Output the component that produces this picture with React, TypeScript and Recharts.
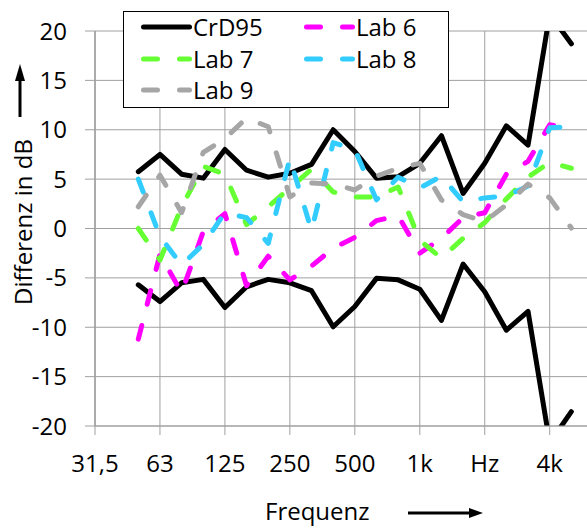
import React from 'react';
import { LineChart, Line, XAxis, YAxis, CartesianGrid, Legend, Label } from 'recharts';

// third-octave band centre frequencies (category axis)
const categories = ['31,5', '40', '50', '63', '80', '100', '125', '160', '200', '250', '315', '400', '500', '630', '800', '1k', '1,25k', '1,6k', '2k', '2,5k', '3,15k', '4k', '5k', '6,3k'];
const tickCategories = ['31,5', '63', '125', '250', '500', '1k', '2k', '4k'];
const tickLabels = ['31,5', '63', '125', '250', '500', '1k', 'Hz', '4k'];
const yTicks = [-20, -15, -10, -5, 0, 5, 10, 15, 20];

// series values from 50 Hz up to 5 kHz
const firstCategory = '50';
const crdUpper = [5.75, 7.5, 5.5, 5.1, 8.0, 5.9, 5.2, 5.6, 6.5, 10.0, 7.8, 5.1, 5.25, 6.6, 9.4, 3.55, 6.6, 10.4, 8.45, 21.7, 18.7];
const crdLower = [-5.7, -7.4, -5.5, -5.15, -8.0, -5.9, -5.15, -5.5, -6.3, -9.95, -7.9, -5.05, -5.2, -6.15, -9.3, -3.6, -6.4, -10.3, -8.4, -21.7, -18.55];
const lab6 = [-11.2, -2.6, -6.5, -0.3, 1.5, -5.8, -2.8, -5.2, -3.8, -2.0, -0.9, 0.8, 1.3, -2.5, -1.0, 1.1, 1.6, 5.5, 6.8, 10.5, 10.2];
const lab7 = [0.0, -3.2, 2.2, 6.3, 5.5, 0.4, 2.2, 4.1, 6.0, 3.7, 3.2, 3.2, 4.2, -1.2, -3.0, -1.0, 0.6, 3.0, 5.2, 6.7, 6.1];
const lab8 = [5.0, -0.8, -3.7, -1.6, 1.6, 1.1, -1.5, 7.1, -0.2, 8.7, 8.0, 2.9, 5.2, 4.1, 5.3, 2.7, 3.1, 3.3, 4.3, 10.2, 10.3];
const lab9 = [2.2, 5.4, 1.6, 7.7, 9.1, 11.2, 10.3, 3.2, 4.6, 4.5, 3.9, 5.3, 6.1, 6.6, 2.9, 1.4, 0.7, 2.4, 4.5, 3.1, 0.05];

const FONT = "'Open Sans', sans-serif";
const GRID = '#a0a0a0';
const DASH = '14 22';

const series = [
  { key: 'crdUpper', name: 'CrD95', color: '#000000', values: crdUpper, dash: undefined as string | undefined, inLegend: true },
  { key: 'crdLower', name: 'CrD95', color: '#000000', values: crdLower, dash: undefined as string | undefined, inLegend: false },
  { key: 'lab6', name: 'Lab 6', color: '#ff00ff', values: lab6, dash: DASH, inLegend: true },
  { key: 'lab7', name: 'Lab 7', color: '#66ff33', values: lab7, dash: DASH, inLegend: true },
  { key: 'lab8', name: 'Lab 8', color: '#33ccff', values: lab8, dash: DASH, inLegend: true },
  { key: 'lab9', name: 'Lab 9', color: '#a6a6a6', values: lab9, dash: DASH, inLegend: true },
];

const start = categories.indexOf(firstCategory);
const data = categories.map((f, i) => {
  const row: Record<string, string | number | null> = { f };
  series.forEach((s) => {
    const k = i - start;
    row[s.key] = k >= 0 && k < s.values.length ? s.values[k] : null;
  });
  return row;
});

const tickText = (v: string) => {
  const i = tickCategories.indexOf(v);
  return i >= 0 ? tickLabels[i] : '';
};

const legendItems = series.filter((s) => s.inLegend);

const LegendBox = () => (
  <div style={{ position: 'relative', width: 326, height: 97, boxSizing: 'border-box', border: '1.5px solid #000', background: '#fff' }}>
    {legendItems.map((s, j) => {
      const col = j % 2;
      const row = Math.floor(j / 2);
      const left = col === 0 ? 15 : 178;
      const cy = 15 + row * 31.5;
      return (
        <div key={s.key} style={{ position: 'absolute', left, top: cy - 16, height: 32, display: 'flex', alignItems: 'center', whiteSpace: 'nowrap' }}>
          <svg width={53} height={10} style={{ display: 'block', flex: 'none' }}>
            <line x1={4.5} x2={50.5} y1={5} y2={5} stroke={s.color} strokeWidth={5}
              strokeLinecap="round" strokeDasharray={s.dash} />
          </svg>
          <span style={{ fontSize: 24, lineHeight: '32px', fontFamily: FONT, color: '#000', marginLeft: 1 }}>{s.name}</span>
        </div>
      );
    })}
  </div>
);

const YTitle = (props: any) => {
  const vb = props.viewBox || { x: 0, y: 31 };
  const cx = vb.x + 32;
  const cy = vb.y + 191;
  const ax = vb.x + 20;
  return (
    <g>
      <text x={cx} y={cy} transform={`rotate(-90 ${cx} ${cy})`} textAnchor="middle" fontSize={24}
        fontFamily={FONT} fill="#000">Differenz in dB</text>
      <line x1={ax} x2={ax} y1={vb.y + 86} y2={vb.y + 48} stroke="#000" strokeWidth={3} />
      <polygon points={`${ax},${vb.y + 33} ${ax - 5},${vb.y + 50} ${ax + 5},${vb.y + 50}`} fill="#000" />
    </g>
  );
};

const XTitle = (props: any) => {
  const vb = props.viewBox || { x: 95, y: 426 };
  const ay = vb.y + 87;
  return (
    <g>
      <text x={vb.x + 170} y={vb.y + 94} fontSize={24} fontFamily={FONT} fill="#000">Frequenz</text>
      <line x1={vb.x + 313} x2={vb.x + 376} y1={ay} y2={ay} stroke="#000" strokeWidth={3} />
      <polygon points={`${vb.x + 388},${ay} ${vb.x + 374},${ay - 5} ${vb.x + 374},${ay + 5}`} fill="#000" />
    </g>
  );
};

export default function App() {
  return (
    <div style={{ position: 'absolute', left: 0, top: 0, width: 587, height: 529, overflow: 'hidden', background: '#fff', fontFamily: FONT }}>
      <LineChart width={600} height={529} data={data} margin={{ top: 31, right: 7, bottom: 0, left: 0 }}>
        <CartesianGrid stroke={GRID} strokeWidth={1} />
        <XAxis dataKey="f" type="category" scale="point" interval={2} padding={{ left: 0, right: 0 }}
          height={103} tickSize={9} tickMargin={20} tickFormatter={tickText}
          tick={{ fill: '#000', fontSize: 24, fontFamily: FONT }}
          axisLine={{ stroke: GRID }} tickLine={{ stroke: GRID }}>
          <Label content={XTitle} />
        </XAxis>
        <YAxis type="number" domain={[-20, 20]} ticks={yTicks} interval={0} allowDataOverflow width={95}
          tickSize={10} tickMargin={18} tick={{ fill: '#000', fontSize: 24, fontFamily: FONT }}
          axisLine={{ stroke: GRID }} tickLine={{ stroke: GRID }}>
          <Label content={YTitle} />
        </YAxis>
        {series.map((s) => (
          <Line key={s.key} dataKey={s.key} name={s.name} stroke={s.color} strokeWidth={5}
            strokeDasharray={s.dash} strokeLinecap="round" strokeLinejoin="round"
            dot={false} activeDot={false} isAnimationActive={false}
            legendType={s.inLegend ? 'line' : 'none'} />
        ))}
        <Legend content={LegendBox} layout="vertical" align="center" verticalAlign="middle"
          wrapperStyle={{ left: 123, top: 11, width: 326, height: 97 }} />
      </LineChart>
    </div>
  );
}
